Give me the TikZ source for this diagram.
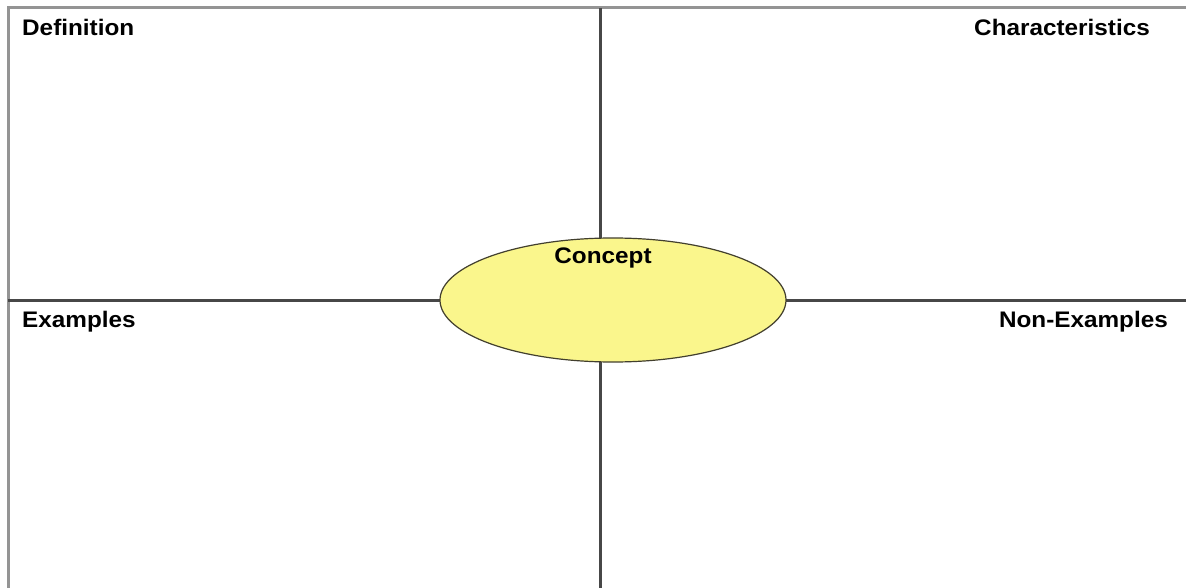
\documentclass[tikz,border=0pt]{standalone}
\usepackage{fontspec}
\setmainfont{Liberation Sans}[FakeStretch=1.08]
\usetikzlibrary{shapes.geometric}
\begin{document}
\begin{tikzpicture}[x=1pt,y=-1pt,
  border/.style={draw=black!42,line width=3pt},
  divider/.style={draw=black!72,line width=3pt},
  label/.style={font=\fontsize{22.5}{26}\selectfont\bfseries,inner sep=0pt},
  concept/.style={ellipse,draw=black!70!olive,line width=1.2pt,fill={rgb,255:red,250;green,246;blue,140},minimum width=346pt,minimum height=124pt,inner sep=0pt}]
\useasboundingbox[fill=white] (0,0) rectangle (1186,588);
\coordinate (tl) at (8,8);
\coordinate (tr) at (1186,8);
\coordinate (bl) at (8,588);
\coordinate (ml) at (8,300);
\coordinate (mr) at (1186,300);
\coordinate (mt) at (600,8);
\coordinate (mb) at (600,588);
\draw[border] (bl) -- (tl) -- (tr);
\draw[divider] (ml) -- (mr);
\draw[divider] (mt) -- (mb);
\node[concept] (c) at (613,300) {};
\node[label] (ct) at (603,258) {Concept};
\node[label,anchor=west] (def) at (22,27) {Definition};
\node[label,anchor=east] (ch) at (1150,27) {Characteristics};
\node[label,anchor=west] (ex) at (22,322) {Examples};
\node[label,anchor=east] (ne) at (1168,322) {Non-Examples};
\end{tikzpicture}
\end{document}
